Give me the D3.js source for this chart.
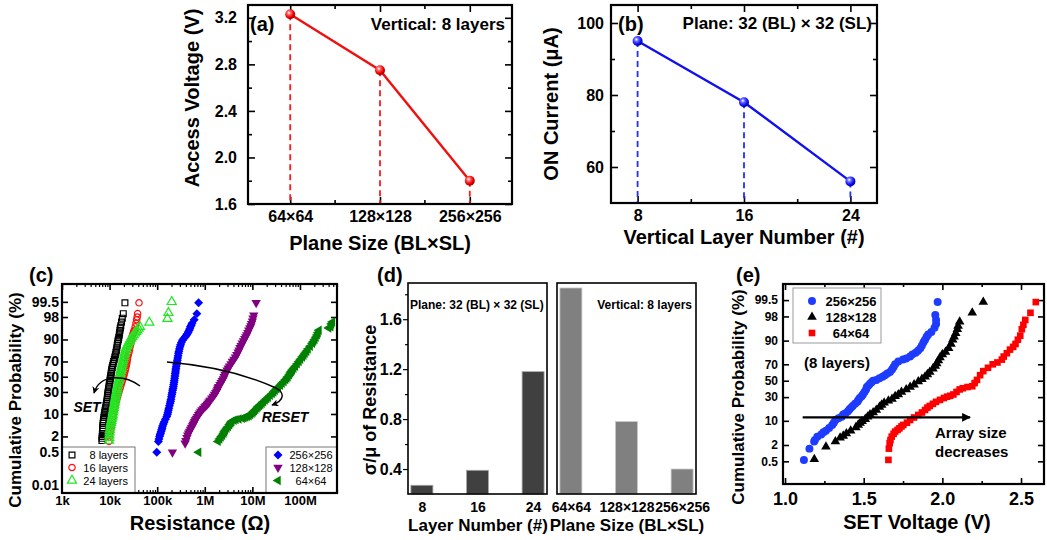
<!DOCTYPE html>
<html><head><meta charset="utf-8">
<script src="https://cdn.jsdelivr.net/npm/d3@7"></script>
<style>body{margin:0;background:#fff}svg{display:block}</style>
</head><body>
<svg id="fig" width="1047" height="540"></svg>
<script>
// ---------------- DATA ----------------
// (a)
const aCategories = ["64×64", "128×128", "256×256"];
const aValues = [3.23, 2.75, 1.80];
const aYTicks = [1.6, 2.0, 2.4, 2.8, 3.2];
const aYMinor = [1.8, 2.2, 2.6, 3.0];
// (b)
const bLayers = [8, 16, 24];
const bValues = [95, 78, 56];
const bYTicks = [60, 80, 100];
const bYMinor = [70, 90];
const bXMinor = [12, 20];
// (c)  [resistance (Ohm), cumulative probability (%)]
const c8layers = [[6.9e3,1.4],[6.95e3,1.7],[7.0e3,2],[7.05e3,2.5],[7.1e3,3],[7.15e3,3.5],[7.2e3,4],[7.25e3,4.7],[7.3e3,5.5],[7.4e3,6.2],[7.5e3,7],[7.6e3,8],[7.7e3,9],[7.8e3,10],[7.9e3,11],[8.05e3,12.5],[8.2e3,14],[8.4e3,16],[8.6e3,18],[8.75e3,20],[8.9e3,22],[9.0e3,24],[9.1e3,26],[9.2e3,28],[9.3e3,30],[9.45e3,32.5],[9.6e3,35],[9.75e3,37.5],[9.9e3,40],[10.05e3,42.5],[10.2e3,45],[10.35e3,47.5],[10.5e3,50],[10.65e3,52.5],[10.8e3,55],[10.95e3,57.5],[11.1e3,60],[11.35e3,62.5],[11.6e3,65],[11.9e3,67.5],[12.2e3,70],[12.55e3,72.5],[12.9e3,75],[13.25e3,77.5],[13.6e3,80],[13.9e3,82],[14.2e3,84],[14.45e3,86],[14.7e3,87.5],[15.0e3,89],[15.3e3,90],[15.6e3,91.3],[16.0e3,92.5],[16.2e3,93.5],[16.5e3,94.5],[16.8e3,95.3],[17.2e3,96],[17.8e3,97],[18.5e3,97.8],[19.4e3,98.5],[21e3,99.45]];
const c16layers = [[9.7e3,1.3],[9.9e3,1.9],[10.1e3,2.5],[10.35e3,3],[10.6e3,3.4],[10.8e3,4.2],[11.0e3,5],[11.25e3,6],[11.5e3,7],[11.75e3,8.5],[12.0e3,10],[12.45e3,12.5],[12.9e3,15],[13.35e3,17.5],[13.8e3,20],[14.25e3,22.5],[14.7e3,25],[15.15e3,27.5],[15.6e3,30],[16.1e3,32.5],[16.6e3,35],[17.2e3,38],[17.8e3,41],[18.4e3,44],[19.0e3,47],[19.6e3,50],[20.2e3,53],[20.75e3,56],[21.3e3,59],[21.85e3,62],[22.4e3,65],[22.8e3,67.5],[23.2e3,70],[23.55e3,72.5],[23.9e3,75],[24.7e3,77.5],[25.5e3,80],[26.2e3,82.5],[27.0e3,85],[27.5e3,86.5],[28.0e3,88],[28.5e3,89.5],[29e3,90.7],[30e3,92],[31e3,93],[32e3,93.8],[33e3,94.5],[34.5e3,95.7],[35.9e3,96.7],[37e3,97.5],[38e3,98],[38.8e3,98.5],[41.5e3,99.45]];
const c24layers = [[9.7e3,1.4],[9.8e3,1.8],[9.9e3,2.2],[10.0e3,2.8],[10.1e3,3.4],[10.3e3,4.2],[10.5e3,5],[10.7e3,5.7],[10.9e3,6.5],[11.15e3,7.5],[11.4e3,8.5],[11.6e3,9.7],[11.8e3,11],[12.0e3,12.5],[12.2e3,14],[12.35e3,15.5],[12.5e3,17],[12.7e3,19],[12.9e3,21],[13.15e3,23],[13.4e3,25],[13.7e3,27.5],[14.0e3,30],[14.25e3,32.5],[14.5e3,35],[14.8e3,38],[15.1e3,41],[15.5e3,44],[15.9e3,47],[16.25e3,50],[16.6e3,53],[16.9e3,55.5],[17.2e3,58],[17.5e3,60.5],[17.8e3,63],[18.2e3,65.5],[18.6e3,68],[19.05e3,70.5],[19.5e3,73],[20.0e3,75.5],[20.5e3,78],[21.0e3,80],[21.6e3,82],[22.3e3,83.5],[23.0e3,85],[23.9e3,86.3],[24.8e3,87.5],[25.8e3,88.6],[26.8e3,89.6],[28.4e3,90.6],[30e3,91.5],[31.9e3,92.4],[33.9e3,93.2],[36e3,93.9],[38e3,94.5],[40.5e3,95.1],[43.4e3,95.7],[68.4e3,96.9],[164e3,97.7],[172e3,98.6],[202e3,99.5]];
const c256 = [[98e3,0.47],[106e3,1.3],[109e3,1.6],[112e3,2],[115e3,2.3],[118e3,2.6],[121e3,3],[124e3,3.4],[127e3,3.9],[130e3,4.5],[135e3,5.2],[140e3,6],[149e3,7.2],[159e3,8.5],[164e3,9.7],[168e3,11],[172e3,12.5],[176e3,14],[181e3,16],[187e3,18],[191e3,20],[195e3,22],[199e3,24.5],[203e3,27],[207e3,29.5],[211e3,32],[215e3,34.3],[219e3,36.7],[222e3,39.3],[226e3,42],[229e3,45],[233e3,48],[236e3,51],[239e3,54],[242e3,56.5],[245e3,59],[248e3,61.5],[252e3,64],[256e3,66.5],[261e3,69],[265e3,71.5],[270e3,74],[275e3,76.5],[280e3,79],[286e3,81],[293e3,83],[301e3,84.8],[310e3,86.5],[323e3,88],[340e3,89.6],[363e3,90.6],[390e3,91.5],[410e3,92.3],[430e3,93],[450e3,93.8],[470e3,94.5],[485e3,95.1],[500e3,95.7],[520e3,96.2],[540e3,96.7],[600e3,97.5],[682e3,98.5],[741e3,99.45]];
const c128 = [[209e3,0.47],[386e3,1.1],[400e3,1.4],[420e3,1.8],[438e3,2.2],[456e3,2.6],[478e3,3],[500e3,3.5],[525e3,4],[550e3,4.5],[570e3,5],[590e3,5.5],[610e3,6.1],[630e3,6.8],[665e3,7.6],[700e3,8.5],[740e3,9.5],[780e3,10.5],[825e3,11.6],[870e3,12.7],[935e3,13.8],[1.0e6,15],[1.06e6,16],[1.12e6,17],[1.17e6,18],[1.22e6,19],[1.27e6,20],[1.31e6,21],[1.4e6,23],[1.5e6,25],[1.6e6,27],[1.7e6,29],[1.78e6,31],[1.85e6,33],[1.9e6,35],[1.96e6,36.7],[2.08e6,39.3],[2.2e6,42],[2.32e6,44.5],[2.45e6,47],[2.55e6,50],[2.65e6,53],[2.8e6,56],[2.93e6,59],[3.1e6,61.5],[3.3e6,64],[3.55e6,67],[3.8e6,70],[4.1e6,72.5],[4.4e6,75],[4.7e6,77.5],[5.0e6,80],[5.25e6,82],[5.5e6,84],[5.8e6,85.8],[6.1e6,87.5],[6.5e6,89],[6.9e6,90.5],[7.25e6,91.5],[7.6e6,92.5],[8.0e6,93.5],[8.4e6,94.5],[8.85e6,95.3],[9.3e6,96],[9.6e6,96.6],[10.0e6,97.2],[10.3e6,97.8],[10.7e6,98.3],[12e6,99.45]];
const c64 = [[741e3,0.47],[1.9e6,1.3],[2.05e6,1.6],[2.2e6,1.9],[2.35e6,2.2],[2.5e6,2.6],[2.6e6,2.9],[2.7e6,3.3],[2.9e6,3.8],[3.1e6,4.3],[3.3e6,4.9],[3.47e6,5.5],[3.6e6,5.9],[3.7e6,6.3],[4.1e6,6.7],[4.5e6,7.0],[5.2e6,7.3],[6.1e6,7.6],[6.6e6,7.9],[7.2e6,8.3],[7.8e6,8.6],[8.5e6,9.0],[9.1e6,9.7],[9.8e6,10.4],[10.4e6,11.2],[11e6,12],[11.7e6,13],[12.5e6,14],[13.2e6,15],[14e6,16],[14.9e6,17],[15.9e6,18],[17.1e6,19.5],[18.5e6,21],[20e6,22.5],[21.5e6,24],[23.6e6,26],[26e6,28],[28e6,30],[30e6,32],[32.5e6,34],[35e6,36],[38.5e6,38.5],[42e6,41],[46e6,43.5],[50e6,46],[53e6,48],[56e6,50],[59.5e6,52.5],[63e6,55],[66e6,57],[69e6,59],[74e6,61.5],[80e6,64],[87e6,67],[95e6,70],[103e6,72.5],[112e6,75],[120e6,77],[128e6,79],[138e6,81],[148e6,83],[164e6,85.3],[182e6,87.5],[193e6,88.8],[205e6,90],[217e6,91.3],[230e6,92.5],[240e6,93.5],[251e6,94.5],[400e6,95.3],[443e6,95.7],[460e6,96.5],[479e6,97]];
const cXTicks = [1e3, 1e4, 1e5, 1e6, 1e7, 1e8];
const cXLabels = ["1k", "10k", "100k", "1M", "10M", "100M"];
const cYTicks = [0.01, 0.5, 2, 10, 30, 50, 70, 90, 98, 99.5];
const cYLabels = ["0.01", "0.5", "2", "10", "30", "50", "70", "90", "98", "99.5"];
const cLegendLeft = ["8 layers", "16 layers", "24 layers"];
const cLegendRight = ["256×256", "128×128", "64×64"];
// (d)
const dLayers = ["8", "16", "24"];
const dLayerValues = [0.27, 0.39, 1.18];
const dPlanes = ["64×64", "128×128", "256×256"];
const dPlaneValues = [1.85, 0.78, 0.40];
const dYTicks = [0.4, 0.8, 1.2, 1.6];
const dYMinor = [0.6, 1.0, 1.4, 1.8];
// (e)  [SET voltage (V), cumulative probability (%)]
const e256 = [[1.12,0.57],[1.155,1.5],[1.185,2.6],[1.19,2.9],[1.205,3.7],[1.23,4.3],[1.244,5.0],[1.26,5.5],[1.28,6.5],[1.30,7.9],[1.31,9.0],[1.32,10.5],[1.34,11.5],[1.36,12.5],[1.37,14],[1.385,15],[1.40,16.5],[1.41,18],[1.42,19.5],[1.43,21],[1.445,23],[1.46,25],[1.466,27],[1.475,29],[1.487,31],[1.495,33],[1.505,36],[1.515,39],[1.52,42],[1.53,44],[1.54,46],[1.55,48],[1.56,50],[1.58,51],[1.60,53],[1.62,55],[1.635,57],[1.65,59],[1.667,61],[1.68,64],[1.69,67],[1.70,70],[1.72,73],[1.75,75],[1.77,76],[1.795,78],[1.81,80],[1.83,81.5],[1.845,83],[1.86,85],[1.87,87],[1.88,89],[1.89,90.5],[1.90,92],[1.91,93],[1.93,94],[1.95,95.5],[1.96,96.5],[1.96,97.4],[1.955,98.2],[1.97,99.4]];
const e128 = [[1.186,0.6],[1.26,1.75],[1.32,2.6],[1.35,3.4],[1.37,3.9],[1.39,4.6],[1.417,5.5],[1.45,6.8],[1.465,7.9],[1.477,8.8],[1.49,9.8],[1.51,11],[1.525,12.5],[1.54,14],[1.56,15.5],[1.58,17.5],[1.60,20],[1.614,22],[1.63,24],[1.657,26],[1.68,28],[1.70,31],[1.72,33],[1.74,36],[1.77,39],[1.795,42],[1.82,45],[1.847,49],[1.87,52],[1.89,55],[1.905,58],[1.92,61],[1.94,65],[1.955,68],[1.964,71],[1.975,74],[1.985,77],[2.0,80],[2.02,82],[2.04,85],[2.055,88],[2.066,90.5],[2.075,92],[2.085,93.5],[2.095,95],[2.10,96],[2.11,97],[2.19,98.5],[2.26,99.4]];
const e64 = [[1.657,0.57],[1.66,1.5],[1.665,2.3],[1.67,2.9],[1.678,3.7],[1.69,4.5],[1.70,5.2],[1.715,5.8],[1.727,6.4],[1.74,7.2],[1.752,7.9],[1.775,9],[1.795,10.5],[1.82,12],[1.847,13.7],[1.87,15.5],[1.89,17.5],[1.905,19.5],[1.92,21],[1.94,23],[1.96,25],[1.985,27],[2.01,29],[2.03,30.5],[2.05,31.5],[2.07,33],[2.09,36],[2.11,39],[2.13,40.5],[2.16,42],[2.19,43],[2.205,47],[2.22,51],[2.24,57],[2.26,62],[2.29,66],[2.32,70],[2.35,72],[2.378,75],[2.39,78],[2.41,81],[2.43,84],[2.45,86],[2.465,88],[2.48,90.5],[2.495,92.5],[2.505,95],[2.515,96.3],[2.527,97.4],[2.56,98.5],[2.594,99.4]];
const eXTicks = [1.0, 1.5, 2.0, 2.5];
const eXMinor = [1.25, 1.75, 2.25];
const eYTicks = [0.5, 2, 10, 30, 50, 70, 90, 98, 99.5];
const eYLabels = ["0.5", "2", "10", "30", "50", "70", "90", "98", "99.5"];
const eLegend = ["256×256", "128×128", "64×64"];

// ---------------- HELPERS ----------------
const FONT = '"Liberation Sans", Arial, Helvetica, sans-serif';
const svg = d3.select("#fig");

function probit(p) {
  const a=[-3.969683028665376e+01,2.209460984245205e+02,-2.759285104469687e+02,1.383577518672690e+02,-3.066479806614716e+01,2.506628277459239e+00];
  const b=[-5.447609879822406e+01,1.615858368580409e+02,-1.556989798598866e+02,6.680131188771972e+01,-1.328068155288572e+01];
  const c=[-7.784894002430293e-03,-3.223964580411365e-01,-2.400758277161838e+00,-2.549732539343734e+00,4.374664141464968e+00,2.938163982698783e+00];
  const d=[7.784695709041462e-03,3.224671290700398e-01,2.445134137142996e+00,3.754408661907416e+00];
  const pl=0.02425, ph=1-pl; let q, r;
  if (p < pl) { q=Math.sqrt(-2*Math.log(p)); return (((((c[0]*q+c[1])*q+c[2])*q+c[3])*q+c[4])*q+c[5])/((((d[0]*q+d[1])*q+d[2])*q+d[3])*q+1); }
  if (p > ph) { q=Math.sqrt(-2*Math.log(1-p)); return -(((((c[0]*q+c[1])*q+c[2])*q+c[3])*q+c[4])*q+c[5])/((((d[0]*q+d[1])*q+d[2])*q+d[3])*q+1); }
  q=p-0.5; r=q*q; return (((((a[0]*r+a[1])*r+a[2])*r+a[3])*r+a[4])*r+a[5])*q/(((((b[0]*r+b[1])*r+b[2])*r+b[3])*r+b[4])*r+1);
}

function styleAxis(g, fs, sw) {
  g.attr("font-family", FONT).attr("font-size", fs).attr("font-weight", "bold");
  g.select(".domain").remove();
  g.selectAll(".tick line").attr("stroke", "#000").attr("stroke-width", sw || 1.6);
  g.selectAll(".tick text").attr("fill", "#000");
}
function frame(g, x0, y0, x1, y1, sw) {
  g.append("rect").attr("x", x0).attr("y", y0).attr("width", x1 - x0).attr("height", y1 - y0)
    .attr("fill", "none").attr("stroke", "#000").attr("stroke-width", sw || 2);
}
function text(g, x, y, s, fs, opts) {
  opts = opts || {};
  const t = g.append("text").attr("x", x).attr("y", y).text(s)
    .attr("font-family", FONT).attr("font-size", fs)
    .attr("font-weight", opts.weight || "bold")
    .attr("text-anchor", opts.anchor || "start")
    .attr("fill", opts.fill || "#000");
  if (opts.italic) t.attr("font-style", "italic");
  return t;
}
function vTitle(g, x, y, s, fs) {
  g.append("text").attr("transform", `translate(${x},${y}) rotate(-90)`)
    .attr("text-anchor", "middle").attr("dy", "0.35em")
    .attr("font-family", FONT).attr("font-size", fs).attr("font-weight", "bold").text(s);
}

const defs = svg.append("defs");
function sphere(id, light, mid, dark) {
  const gr = defs.append("radialGradient").attr("id", id).attr("cx", "38%").attr("cy", "35%").attr("r", "65%");
  gr.append("stop").attr("offset", "0%").attr("stop-color", "#fff");
  gr.append("stop").attr("offset", "30%").attr("stop-color", light);
  gr.append("stop").attr("offset", "70%").attr("stop-color", mid);
  gr.append("stop").attr("offset", "100%").attr("stop-color", dark);
}
sphere("sRed", "#ff6060", "#f00000", "#a00000");
sphere("sBlue", "#6a6aff", "#1010ff", "#0000a0");
defs.append("marker").attr("id", "arrowHead").attr("viewBox", "0 0 10 10").attr("refX", 9).attr("refY", 5)
  .attr("markerWidth", 5).attr("markerHeight", 5).attr("orient", "auto")
  .append("path").attr("d", "M0,0 L10,5 L0,10 L3,5 Z").attr("fill", "#000");
defs.append("marker").attr("id", "arrowBig").attr("viewBox", "0 0 10 10").attr("refX", 9).attr("refY", 5)
  .attr("markerWidth", 5.5).attr("markerHeight", 4).attr("orient", "auto")
  .append("path").attr("d", "M0,0 L10,5 L0,10 Z").attr("fill", "#000");

// ================= PANEL (a) =================
{
  const g = svg.append("g");
  const X0 = 248, X1 = 512, Y0 = 5, Y1 = 204;
  const x = d3.scalePoint().domain(aCategories).range([X0, X1]).padding(0.47);
  const y = d3.scaleLinear().domain([1.6, 3.31]).range([Y1, Y0]);
  g.append("g").attr("transform", `translate(0,${Y1})`).call(d3.axisBottom(x).tickSize(-7).tickPadding(7)).call(styleAxis, 16);
  g.append("g").attr("transform", `translate(0,${Y0})`).call(d3.axisTop(x).tickSize(-7).tickFormat("")).call(styleAxis, 16);
  const mids = aCategories.slice(0, -1).map(c => x(c) + x.step() / 2);
  g.selectAll(".mx").data(mids).join("path").attr("d", d => `M${d},${Y1}v-4M${d},${Y0}v4`).attr("stroke", "#000").attr("stroke-width", 1.6);
  g.append("g").attr("transform", `translate(${X0},0)`).call(d3.axisLeft(y).tickValues(aYTicks).tickFormat(d3.format(".1f")).tickSize(-7).tickPadding(11)).call(styleAxis, 16);
  g.append("g").attr("transform", `translate(${X1},0)`).call(d3.axisRight(y).tickValues(aYTicks).tickFormat("").tickSize(-7)).call(styleAxis, 16);
  g.append("g").attr("transform", `translate(${X0},0)`).call(d3.axisLeft(y).tickValues(aYMinor).tickFormat("").tickSize(-4)).call(styleAxis, 16);
  g.append("g").attr("transform", `translate(${X1},0)`).call(d3.axisRight(y).tickValues(aYMinor).tickFormat("").tickSize(-4)).call(styleAxis, 16);
  const pts = aCategories.map((c, i) => ({ c, v: aValues[i] }));
  g.selectAll(".dl").data(pts).join("line").attr("x1", d => x(d.c)).attr("x2", d => x(d.c))
    .attr("y1", d => y(d.v)).attr("y2", Y1).attr("stroke", "#ff1a1a").attr("stroke-width", 1.8).attr("stroke-dasharray", "6,4");
  g.append("path").datum(pts).attr("d", d3.line().x(d => x(d.c)).y(d => y(d.v))).attr("fill", "none").attr("stroke", "#f01010").attr("stroke-width", 2.4);
  g.selectAll(".pt").data(pts).join("circle").attr("cx", d => x(d.c)).attr("cy", d => y(d.v)).attr("r", 5).attr("fill", "url(#sRed)");
  frame(g, X0, Y0, X1, Y1, 2.2);
  text(g, 250, 31, "(a)", 20);
  text(g, 505, 30, "Vertical: 8 layers", 17, { anchor: "end" });
  text(g, 380, 250, "Plane Size (BL×SL)", 20, { anchor: "middle" });
  vTitle(g, 192, 98, "Access Voltage (V)", 20);
}

// ================= PANEL (b) =================
{
  const g = svg.append("g");
  const X0 = 611, X1 = 877, Y0 = 5, Y1 = 203;
  const x = d3.scaleLinear().domain([6, 26]).range([X0, X1]);
  const y = d3.scaleLinear().domain([50, 105]).range([Y1, Y0]);
  g.append("g").attr("transform", `translate(0,${Y1})`).call(d3.axisBottom(x).tickValues(bLayers).tickSize(-7).tickPadding(7)).call(styleAxis, 16);
  g.append("g").attr("transform", `translate(0,${Y0})`).call(d3.axisTop(x).tickValues(bLayers).tickFormat("").tickSize(-7)).call(styleAxis, 16);
  g.append("g").attr("transform", `translate(0,${Y1})`).call(d3.axisBottom(x).tickValues(bXMinor).tickFormat("").tickSize(-4)).call(styleAxis, 16);
  g.append("g").attr("transform", `translate(0,${Y0})`).call(d3.axisTop(x).tickValues(bXMinor).tickFormat("").tickSize(-4)).call(styleAxis, 16);
  g.append("g").attr("transform", `translate(${X0},0)`).call(d3.axisLeft(y).tickValues(bYTicks).tickSize(-7).tickPadding(7)).call(styleAxis, 16);
  g.append("g").attr("transform", `translate(${X1},0)`).call(d3.axisRight(y).tickValues(bYTicks).tickFormat("").tickSize(-7)).call(styleAxis, 16);
  g.append("g").attr("transform", `translate(${X0},0)`).call(d3.axisLeft(y).tickValues(bYMinor).tickFormat("").tickSize(-4)).call(styleAxis, 16);
  g.append("g").attr("transform", `translate(${X1},0)`).call(d3.axisRight(y).tickValues(bYMinor).tickFormat("").tickSize(-4)).call(styleAxis, 16);
  const pts = bLayers.map((l, i) => ({ l, v: bValues[i] }));
  g.selectAll(".dl").data(pts).join("line").attr("x1", d => x(d.l)).attr("x2", d => x(d.l))
    .attr("y1", d => y(d.v)).attr("y2", Y1).attr("stroke", "#2030ff").attr("stroke-width", 1.8).attr("stroke-dasharray", "6,4");
  g.append("path").datum(pts).attr("d", d3.line().x(d => x(d.l)).y(d => y(d.v))).attr("fill", "none").attr("stroke", "#1010f0").attr("stroke-width", 2.4);
  g.selectAll(".pt").data(pts).join("circle").attr("cx", d => x(d.l)).attr("cy", d => y(d.v)).attr("r", 5).attr("fill", "url(#sBlue)");
  frame(g, X0, Y0, X1, Y1, 2.2);
  text(g, 618, 31, "(b)", 20);
  text(g, 872, 29, "Plane: 32 (BL) × 32 (SL)", 17, { anchor: "end" });
  text(g, 744, 244, "Vertical Layer Number (#)", 20, { anchor: "middle" });
  vTitle(g, 551, 104, "ON Current (μA)", 20);
}

// ================= PANEL (c) =================
{
  const g = svg.append("g");
  const X0 = 62, X1 = 337, Y0 = 284, Y1 = 493;
  const x = d3.scaleLog().domain([1e3, 6e8]).range([X0, X1]);
  const z = d3.scaleLinear().domain([-4.0, 3.19]).range([Y1, Y0]);
  const y = p => z(probit(p / 100));
  const minor = x.ticks().filter(v => !cXTicks.includes(v));
  g.append("g").attr("transform", `translate(0,${Y1})`).call(d3.axisBottom(x).tickValues(cXTicks).tickFormat((d, i) => cXLabels[i]).tickSize(-6).tickPadding(3)).call(styleAxis, 13);
  g.append("g").attr("transform", `translate(0,${Y0})`).call(d3.axisTop(x).tickValues(cXTicks).tickFormat("").tickSize(-6)).call(styleAxis, 13);
  g.append("g").attr("transform", `translate(0,${Y1})`).call(d3.axisBottom(x).tickValues(minor).tickFormat("").tickSize(-3)).call(styleAxis, 13, 1.2);
  g.append("g").attr("transform", `translate(0,${Y0})`).call(d3.axisTop(x).tickValues(minor).tickFormat("").tickSize(-3)).call(styleAxis, 13, 1.2);
  const zt = cYTicks.map(p => probit(p / 100));
  g.append("g").attr("transform", `translate(${X0},0)`).call(d3.axisLeft(z).tickValues(zt).tickFormat((d, i) => cYLabels[i]).tickSize(-6).tickPadding(3)).call(styleAxis, 14);
  g.append("g").attr("transform", `translate(${X1},0)`).call(d3.axisRight(z).tickValues(zt).tickFormat("").tickSize(-6)).call(styleAxis, 14);

  const mk = {
    l8: [d3.symbolSquare, 34, "none", "#000", 0],
    l16: [d3.symbolCircle, 32, "none", "#ff1010", 0],
    l24: [d3.symbolTriangle, 36, "none", "#22e622", 0],
    p256: [d3.symbolSquare, 40, "#0000ff", "none", 45],
    p128: [d3.symbolTriangle, 38, "#800080", "none", 180],
    p64: [d3.symbolTriangle, 38, "#008000", "none", -90]
  };
  function series(data, m) {
    g.append("g").selectAll("path").data(data).join("path")
      .attr("transform", d => `translate(${x(d[0])},${y(d[1])}) rotate(${m[4]})`)
      .attr("d", d3.symbol().type(m[0]).size(m[1]))
      .attr("fill", m[2]).attr("stroke", m[3]).attr("stroke-width", 1.2);
  }
  series(c8layers, mk.l8);
  series(c16layers, mk.l16);
  series(c24layers, mk.l24);
  series(c256, mk.p256);
  series(c128, mk.p128);
  series(c64, mk.p64);

  // SET / RESET arrows (defined in data coordinates)
  const setArrow = [[43.5e3, 37.5], [21e3, 52.4], [6.3e3, 55], [4.7e3, 28.8]];
  const resetArrow = [[160.7e3, 69.4], [3.39e6, 63], [31.3e6, 34.9], [46.1e6, 29.9], [50.8e6, 21.2], [25.8e6, 16.5]];
  const P = d => [x(d[0]), y(d[1])];
  const s = setArrow.map(P);
  g.append("path").attr("d", `M${s[0]}C${s[1]} ${s[2]} ${s[3]}`).attr("fill", "none").attr("stroke", "#000").attr("stroke-width", 1.4).attr("marker-end", "url(#arrowHead)");
  const r = resetArrow.map(P);
  g.append("path").attr("d", `M${r[0]}Q${r[1]} ${r[2]}C${r[3]} ${r[4]} ${r[5]}`).attr("fill", "none").attr("stroke", "#000").attr("stroke-width", 1.4).attr("marker-end", "url(#arrowHead)");
  text(g, 87, 412, "SET", 14, { anchor: "middle", italic: true });
  text(g, 285, 422, "RESET", 14, { anchor: "middle", italic: true });

  // legends
  g.append("rect").attr("x", X0).attr("y", 447).attr("width", 73).attr("height", Y1 - 447).attr("fill", "#fff").attr("stroke", "#777").attr("stroke-width", 1);
  g.append("rect").attr("x", 266).attr("y", 447).attr("width", X1 - 266).attr("height", Y1 - 447).attr("fill", "#fff").attr("stroke", "#777").attr("stroke-width", 1);
  const lyL = [455, 467.5, 480.5];
  const legL = [mk.l8, mk.l16, mk.l24];
  const legR = [mk.p256, mk.p128, mk.p64];
  cLegendLeft.forEach((lab, i) => {
    const m = legL[i];
    g.append("path").attr("transform", `translate(72,${lyL[i]}) rotate(${m[4]})`).attr("d", d3.symbol().type(m[0]).size(m[1])).attr("fill", m[2]).attr("stroke", m[3]).attr("stroke-width", 1.2);
    text(g, 128, lyL[i] + 4, lab, 11, { anchor: "end", weight: "normal" });
  });
  cLegendRight.forEach((lab, i) => {
    const m = legR[i];
    g.append("path").attr("transform", `translate(278,${lyL[i]}) rotate(${m[4]})`).attr("d", d3.symbol().type(m[0]).size(m[1])).attr("fill", m[2]).attr("stroke", m[3]);
    text(g, 311, lyL[i] + 4, lab, 11, { anchor: "middle", weight: "normal" });
  });
  frame(g, X0, Y0, X1, Y1, 2.2);
  text(g, 29, 282, "(c)", 20);
  text(g, 200, 530, "Resistance (Ω)", 20, { anchor: "middle" });
  vTitle(g, 15, 400, "Cumulative Probability (%)", 17);
}

// ================= PANEL (d) =================
{
  const g = svg.append("g");
  const Y0 = 283, Y1 = 494;
  const LX0 = 408, LX1 = 547, RX0 = 557, RX1 = 696;
  const y = d3.scaleLinear().domain([0.2, 1.89]).range([Y1, Y0]);
  const xl = d3.scalePoint().domain(dLayers).range([LX0, LX1]).padding(0.25);
  const xr = d3.scalePoint().domain(dPlanes).range([RX0, RX1]).padding(0.25);
  const bw = 22;
  g.selectAll(".bl").data(dLayers).join("rect").attr("x", d => xl(d) - bw / 2).attr("width", bw)
    .attr("y", (d, i) => y(dLayerValues[i])).attr("height", (d, i) => Y1 - y(dLayerValues[i]))
    .attr("fill", "#404040").attr("stroke", "#a8a8a8").attr("stroke-width", 0.8);
  g.selectAll(".br").data(dPlanes).join("rect").attr("x", d => xr(d) - bw / 2).attr("width", bw)
    .attr("y", (d, i) => y(dPlaneValues[i])).attr("height", (d, i) => Y1 - y(dPlaneValues[i]))
    .attr("fill", "#808080").attr("stroke", "#c8c8c8").attr("stroke-width", 0.8);
  g.append("g").attr("transform", `translate(${LX0},0)`).call(d3.axisLeft(y).tickValues(dYTicks).tickFormat(d3.format(".1f")).tickSize(5).tickPadding(1)).call(styleAxis, 16, 1.2);
  g.append("g").attr("transform", `translate(${LX0},0)`).call(d3.axisLeft(y).tickValues(dYMinor).tickFormat("").tickSize(3)).call(styleAxis, 16, 1.2);
  g.append("g").attr("transform", `translate(0,${Y1})`).call(d3.axisBottom(xl).tickSize(0).tickPadding(8)).call(styleAxis, 14);
  g.append("g").attr("transform", `translate(0,${Y1})`).call(d3.axisBottom(xr).tickSize(0).tickPadding(8)).call(styleAxis, 14);
  frame(g, LX0, Y0, LX1, Y1, 1.6);
  frame(g, RX0, Y0, RX1, Y1, 1.6);
  text(g, 410, 309, "Plane: 32 (BL) × 32 (SL)", 12);
  text(g, 692, 309, "Vertical: 8 layers", 12, { anchor: "end" });
  text(g, 377, 282, "(d)", 20);
  text(g, 478, 531, "Layer Number (#)", 17, { anchor: "middle" });
  text(g, 627, 531, "Plane Size (BL×SL)", 17, { anchor: "middle" });
  vTitle(g, 370, 400, "σ/μ of Resistance", 18);
}

// ================= PANEL (e) =================
{
  const g = svg.append("g");
  const X0 = 783, X1 = 1044, Y0 = 284, Y1 = 484;
  const x = d3.scaleLinear().domain([0.987, 2.646]).range([X0, X1]);
  const z = d3.scaleLinear().domain([-3.30, 3.09]).range([Y1, Y0]);
  const y = p => z(probit(p / 100));
  g.append("g").attr("transform", `translate(0,${Y1})`).call(d3.axisBottom(x).tickValues(eXTicks).tickFormat(d3.format(".1f")).tickSize(-6).tickPadding(8)).call(styleAxis, 18);
  g.append("g").attr("transform", `translate(0,${Y0})`).call(d3.axisTop(x).tickValues(eXTicks).tickFormat("").tickSize(-6)).call(styleAxis, 18);
  g.append("g").attr("transform", `translate(0,${Y1})`).call(d3.axisBottom(x).tickValues(eXMinor).tickFormat("").tickSize(-3)).call(styleAxis, 18);
  g.append("g").attr("transform", `translate(0,${Y0})`).call(d3.axisTop(x).tickValues(eXMinor).tickFormat("").tickSize(-3)).call(styleAxis, 18);
  const zt = eYTicks.map(p => probit(p / 100));
  g.append("g").attr("transform", `translate(${X0},0)`).call(d3.axisLeft(z).tickValues(zt).tickFormat((d, i) => eYLabels[i]).tickSize(-6).tickPadding(5)).call(styleAxis, 12);
  g.append("g").attr("transform", `translate(${X1},0)`).call(d3.axisRight(z).tickValues(zt).tickFormat("").tickSize(-6)).call(styleAxis, 12);
  function series(data, type, size, fill) {
    g.append("g").selectAll("path").data(data).join("path")
      .attr("transform", d => `translate(${x(d[0])},${y(d[1])})`)
      .attr("d", d3.symbol().type(type).size(size)).attr("fill", fill);
  }
  series(e256, d3.symbolCircle, 50, "#1e3cff");
  series(e128, d3.symbolTriangle, 40, "#000");
  series(e64, d3.symbolSquare, 44, "#ff0000");
  // legend
  g.append("rect").attr("x", 793).attr("y", 288).attr("width", 88).attr("height", 55).attr("fill", "#fff").attr("stroke", "#999").attr("stroke-width", 1);
  const ly = [301, 317, 333];
  const lm = [[d3.symbolCircle, 50, "#1e3cff"], [d3.symbolTriangle, 40, "#000"], [d3.symbolSquare, 44, "#ff0000"]];
  eLegend.forEach((lab, i) => {
    g.append("path").attr("transform", `translate(812,${ly[i]})`).attr("d", d3.symbol().type(lm[i][0]).size(lm[i][1])).attr("fill", lm[i][2]);
    text(g, 851, ly[i] + 5, lab, 13, { anchor: "middle" });
  });
  text(g, 837, 368, "(8 layers)", 15, { anchor: "middle" });
  // arrow (data coordinates)
  const arrow = [[1.112, 12.1], [2.176, 12.1]];
  g.append("line").attr("x1", x(arrow[0][0])).attr("y1", y(arrow[0][1])).attr("x2", x(arrow[1][0])).attr("y2", y(arrow[1][1]))
    .attr("stroke", "#000").attr("stroke-width", 2.2).attr("marker-end", "url(#arrowBig)");
  text(g, 935, 438, "Array size", 15);
  text(g, 935, 457, "decreases", 15);
  frame(g, X0, Y0, X1, Y1, 2.2);
  text(g, 736, 282, "(e)", 20);
  text(g, 917, 529, "SET Voltage (V)", 20, { anchor: "middle" });
  vTitle(g, 738, 397, "Cumulative Probability (%)", 17);
}
</script>
</body></html>
